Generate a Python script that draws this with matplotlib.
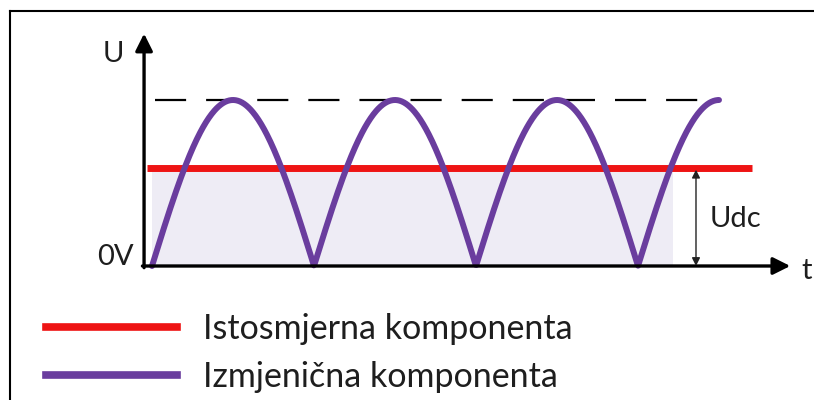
import numpy as np
import matplotlib
matplotlib.use("Agg")
import matplotlib.pyplot as plt
from matplotlib.lines import Line2D

# ---- data ----
peak_value = 1.0            # amplitude of the rectified wave (dashed reference line)
dc_value = 0.59             # DC component level (Udc)
n_half_periods = 3.5        # curve runs from 0 to 3.5 half-periods (ends at a peak)
shade_end = 3.216           # end of the shaded DC area (in half-periods)
labels = ["Istosmjerna komponenta", "Izmjenična komponenta"]
axis_labels = {"y": "U", "zero": "0V", "x": "t", "dc": "Udc"}

RED = "#ee1414"
PURPLE = "#6a3d9e"
SHADE = "#eeecf5"
TEXT = "#1e1e1e"

plt.rcParams['font.family'] = ['Lato', 'DejaVu Sans']

fig = plt.figure(figsize=(8.14, 4.0), dpi=100)
ax = fig.add_axes([0, 0, 1, 1])
# data scale: 162 px per half-period, 166 px per unit voltage
ax.set_xlim(-152 / 162, (814 - 152) / 162)
ax.set_ylim((266 - 400) / 166, 266 / 166)
ax.axis('off')

t = np.linspace(0, n_half_periods, 800)
u = peak_value * np.abs(np.sin(np.pi * t))

# shaded area under DC level
ax.fill_between([0, shade_end], 0, dc_value, color=SHADE, lw=0, zorder=1)

# dashed peak line
ax.plot([0.02, n_half_periods - 0.01], [peak_value, peak_value], color='black',
        lw=1.6, dashes=(14, 9), zorder=2)

# purple AC curve, red DC line
ac_line, = ax.plot(t, u, color=PURPLE, lw=4.3, solid_capstyle='round', zorder=4,
                   label=labels[1])
dc_line, = ax.plot([-0.031, 3.704], [dc_value, dc_value], color=RED, lw=5.0,
                   solid_capstyle='butt', zorder=3, label=labels[0])

# axes with arrows
ax_x0 = -0.049
ax.annotate('', xy=(ax_x0, 1.40), xytext=(ax_x0, -0.01),
            arrowprops=dict(arrowstyle='-|>', lw=2.4, color='black',
                            mutation_scale=26, shrinkA=0, shrinkB=0), zorder=5)
ax.annotate('', xy=(3.94, 0), xytext=(ax_x0 - 0.01, 0),
            arrowprops=dict(arrowstyle='-|>', lw=2.4, color='black',
                            mutation_scale=26, shrinkA=0, shrinkB=0), zorder=5)

# Udc dimension arrow
ax.annotate('', xy=(3.358, dc_value - 0.01), xytext=(3.358, 0.0),
            arrowprops=dict(arrowstyle='<|-|>', lw=1.0, color='#222222',
                            mutation_scale=12, shrinkA=0, shrinkB=0), zorder=5)

fs = 21
ax.text(-0.24, 1.28, axis_labels["y"], fontsize=fs, ha='center', va='center', color=TEXT)
ax.text(-0.225, 0.055, axis_labels["zero"], fontsize=fs, ha='center', va='center', color=TEXT)
ax.text(4.04, -0.03, axis_labels["x"], fontsize=fs, ha='center', va='center', color=TEXT)
ax.text(3.60, 0.283, axis_labels["dc"], fontsize=fs, ha='center', va='center', color=TEXT)

# legend
leg_handles = [Line2D([], [], color=RED, lw=5.5), Line2D([], [], color=PURPLE, lw=5.5)]
ax.legend(leg_handles, labels, loc='upper left', bbox_to_anchor=(46 / 814, 1 - 313 / 400),
          bbox_transform=fig.transFigure, frameon=False, fontsize=24.5,
          handlelength=3.85, handletextpad=0.76, labelspacing=0.46, borderaxespad=0,
          borderpad=0, labelcolor=TEXT)

# frame lines (top and left edge)
fig.add_artist(Line2D([10 / 814, 1], [1 - 11 / 400, 1 - 11 / 400], transform=fig.transFigure,
                      color='black', lw=1.5))
fig.add_artist(Line2D([10 / 814, 10 / 814], [0, 1 - 11 / 400], transform=fig.transFigure,
                      color='black', lw=1.5))

fig.savefig("out.png", dpi=100)
